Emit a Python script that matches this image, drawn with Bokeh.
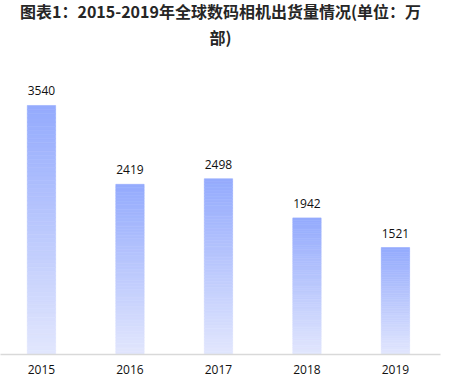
from bokeh.plotting import figure
from bokeh.models import Range1d, FixedTicker, ColumnDataSource, Title
from bokeh.core.properties import value
from bokeh.embed import file_html
from bokeh.resources import INLINE

years = ["2015", "2016", "2017", "2018", "2019"]
shipments = [3540, 2419, 2498, 1942, 1521]
title_line1 = "图表1：2015-2019年全球数码相机出货量情况(单位：万"
title_line2 = "部)"

TOP = (148, 170, 253)
BOTTOM = (226, 231, 253)
N = 60

p = figure(frame_width=440, frame_height=302, output_backend="svg",
           toolbar_location=None, x_range=Range1d(-0.463, 4.509),
           y_range=Range1d(0, 4293), min_border_left=0, min_border_right=9,
           min_border_bottom=8, min_border_top=0, title=None)

xs, bots, tops, cols = [], [], [], []
for i, v in enumerate(shipments):
    for k in range(N):
        f = (k + 0.5) / N
        c = tuple(int(round(BOTTOM[j] + (TOP[j] - BOTTOM[j]) * f)) for j in range(3))
        xs.append(i)
        bots.append(v * k / N)
        tops.append(v * (k + 1) / N)
        cols.append("#%02x%02x%02x" % c)
src = ColumnDataSource(dict(x=xs, bottom=bots, top=tops, color=cols))
p.vbar(x="x", bottom="bottom", top="top", width=0.32, source=src,
       fill_color="color", line_color="color", line_width=0.6)

lab = ColumnDataSource(dict(x=list(range(len(years))), y=shipments,
                            t=[str(v) for v in shipments]))
p.text(x="x", y="y", text="t", source=lab, y_offset=-10, text_align="center",
       text_baseline="bottom", text_font=value("Open Sans"),
       text_font_size="12px", text_color="#111111")

for t, so in ((title_line2, 7), (title_line1, -7)):
    p.add_layout(Title(text=t, align="center", text_font="Noto Sans CJK SC",
                       text_font_size="16px", text_font_style="bold",
                       text_color="#262626", standoff=so, offset=0), "above")

p.yaxis.visible = False
p.xaxis.ticker = FixedTicker(ticks=list(range(len(years))))
p.xaxis.major_label_overrides = {i: y for i, y in enumerate(years)}
p.xaxis.axis_line_color = "#d9d9d9"
p.xaxis.axis_line_width = 1.5
p.xaxis.major_tick_line_color = None
p.xaxis.minor_tick_line_color = None
p.xaxis.major_label_standoff = 4
p.xaxis.major_label_text_font = "Open Sans"
p.xaxis.major_label_text_font_size = "12px"
p.xaxis.major_label_text_color = "#111111"
p.xgrid.visible = False
p.ygrid.visible = False
p.outline_line_color = None

open("out.html", "w").write(file_html(p, INLINE))
